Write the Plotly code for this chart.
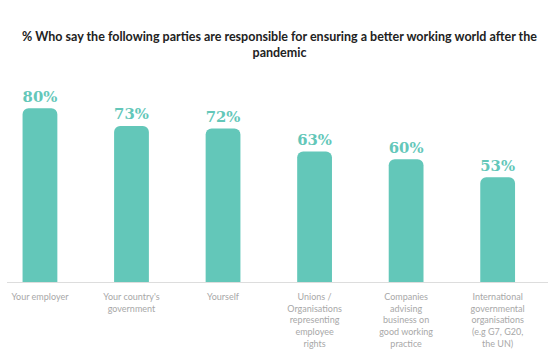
import plotly.graph_objects as go

categories = [
    "Your employer",
    "Your country's<br>government",
    "Yourself",
    "Unions /<br>Organisations<br>representing<br>employee<br>rights",
    "Companies<br>advising<br>business on<br>good working<br>practice",
    "International<br>governmental<br>organisations<br>(e.g G7, G20,<br>the UN)",
]
values = [80, 73, 72, 63, 60, 53]
value_labels = ["80%", "73%", "72%", "63%", "60%", "53%"]
title_text = "% Who say the following parties are responsible for ensuring a better working world after the<br>pandemic"

teal = "#63C7B9"
xs = list(range(len(categories)))

fig = go.Figure(
    go.Bar(
        x=xs,
        y=values,
        width=0.38,
        marker=dict(color=teal, cornerradius=6, line=dict(width=0)),
        text=value_labels,
        textposition="outside",
        cliponaxis=False,
        textfont=dict(family="DejaVu Serif", size=21, color=teal, weight="bold"),
        hoverinfo="skip",
    )
)

fig.update_layout(
    width=559,
    height=363,
    margin=dict(l=7, r=11, t=80, b=81, autoexpand=False),
    paper_bgcolor="white",
    plot_bgcolor="white",
    showlegend=False,
    title=dict(
        text=title_text,
        x=0.5,
        xanchor="center",
        y=0.888,
        yanchor="top",
        font=dict(family="Lato", size=12.5, color="#222222", weight="bold"),
    ),
    xaxis=dict(
        range=[-0.36, 5.55],
        tickmode="array",
        tickvals=xs,
        ticktext=categories,
        showline=True,
        linecolor="#dddddd",
        linewidth=1,
        showgrid=False,
        zeroline=False,
        ticks="",
        ticklabelstandoff=6,
        automargin=False,
        tickfont=dict(family="Lato", size=9, color="#a8a8a8"),
        fixedrange=True,
    ),
    yaxis=dict(
        range=[12, 91],
        visible=False,
        showgrid=False,
        zeroline=False,
        automargin=False,
        fixedrange=True,
    ),
)

fig.write_html(
    "out.html",
    config={"displayModeBar": False, "staticPlot": True},
    post_script="document.body.style.margin='0';document.body.style.padding='0';",
)
